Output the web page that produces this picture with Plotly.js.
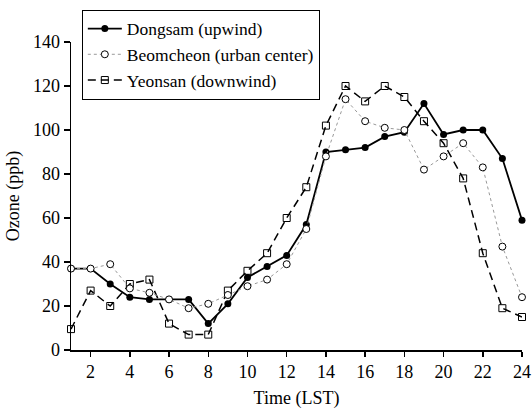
<!DOCTYPE html>
<html>
<head>
<meta charset="utf-8">
<script src="https://cdn.plot.ly/plotly-3.0.1.min.js"></script>
<style>
  html, body { margin: 0; padding: 0; background: #fff; }
  #chart { width: 532px; height: 411px; }
</style>
</head>
<body>
<div id="chart"></div>
<script>
// Hourly ozone at three sites (ppb)
const hours = [1, 2, 3, 4, 5, 6, 7, 8, 9, 10, 11, 12, 13, 14, 15, 16, 17, 18, 19, 20, 21, 22, 23, 24];
const dongsam = [37, 37, 30, 24, 23, 23, 23, 12, 21, 33, 38, 43, 57, 90, 91, 92, 97, 99, 112, 98, 100, 100, 87, 59];
const beomcheon = [37, 37, 39, 28, 26, 23, 19, 21, 25, 29, 32, 39, 55, 88, 114, 104, 101, 100, 82, 88, 94, 83, 47, 24];
const yeonsan = [9.5, 27, 20, 30, 32, 12, 7, 7, 27, 36, 44, 60, 74, 102, 120, 113, 120, 115, 104, 94, 78, 44, 19, 15];
const xTicks = [2, 4, 6, 8, 10, 12, 14, 16, 18, 20, 22, 24];
const yTicks = [0, 20, 40, 60, 80, 100, 120, 140];

const serif = "Liberation Serif, DejaVu Serif, serif";

const traces = [
  {
    x: hours, y: dongsam, name: "Dongsam (upwind)", legendrank: 1,
    mode: "lines+markers", cliponaxis: false,
    line: { color: "#000", width: 1.8 },
    marker: { symbol: "circle", size: 7, color: "#000" }
  },
  {
    x: hours, y: yeonsan, name: "Yeonsan (downwind)", legendrank: 3,
    mode: "lines+markers", cliponaxis: false,
    line: { color: "#000", width: 1.5, dash: "8px,5px" },
    marker: { symbol: "square-open", size: 7, color: "#000", line: { width: 1 } }
  },
  {
    x: hours, y: beomcheon, name: "Beomcheon (urban center)", legendrank: 2,
    mode: "lines+markers", cliponaxis: false,
    line: { color: "#999", width: 1, dash: "dot" },
    marker: { symbol: "circle", size: 7, color: "#fff", line: { color: "#000", width: 1 } }
  }
];

const layout = {
  width: 532, height: 411,
  margin: { l: 71, r: 10, t: 35, b: 61 },
  paper_bgcolor: "#fff", plot_bgcolor: "#fff",
  font: { family: serif, size: 18, color: "#000" },
  showlegend: true,
  legend: {
    x: 0.024, y: 1.105, xanchor: "left", yanchor: "top",
    bgcolor: "#fff", bordercolor: "#000", borderwidth: 1,
    font: { family: serif, size: 17.5, color: "#000" },
    itemwidth: 34, tracegroupgap: 0
  },
  xaxis: {
    range: [1, 24], tickvals: xTicks, ticktext: xTicks.map(String),
    showgrid: false, zeroline: false,
    showline: true, linecolor: "#000", linewidth: 1.5,
    ticks: "outside", ticklen: 5, tickwidth: 1.5, tickcolor: "#000",
    tickfont: { family: serif, size: 18, color: "#000" },
    title: { text: "Time (LST)", font: { family: serif, size: 18, color: "#000" }, standoff: 10 }
  },
  yaxis: {
    range: [0, 140], tickvals: yTicks, ticktext: yTicks.map(String),
    showgrid: false, zeroline: false,
    showline: true, linecolor: "#000", linewidth: 1.5,
    ticks: "outside", ticklen: 6, tickwidth: 1.5, tickcolor: "#000",
    tickfont: { family: serif, size: 18, color: "#000" },
    title: { text: "Ozone (ppb)", font: { family: serif, size: 18, color: "#000" }, standoff: 8 }
  }
};

Plotly.newPlot("chart", traces, layout, { displayModeBar: false, staticPlot: true });
</script>
</body>
</html>
